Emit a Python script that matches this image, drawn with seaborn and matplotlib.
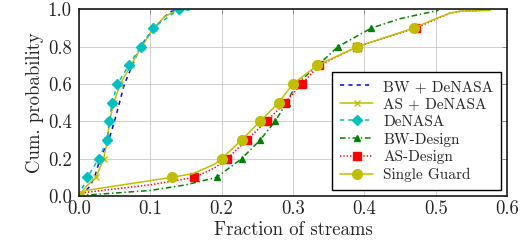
import matplotlib
matplotlib.use("Agg")
import matplotlib.pyplot as plt
import seaborn as sns

# CDF curves (x = fraction of streams, y = cum. probability)
bw_denasa_x = [0.003, 0.015, 0.022, 0.030, 0.042, 0.050, 0.057, 0.064, 0.075, 0.086, 0.106, 0.120, 0.130, 0.150]
bw_denasa_y = [0.0, 0.05, 0.1, 0.2, 0.3, 0.4, 0.5, 0.6, 0.7, 0.8, 0.9, 0.96, 0.99, 0.995]

as_denasa_x = [0.0, 0.010, 0.024, 0.035, 0.040, 0.043, 0.049, 0.058, 0.073, 0.088, 0.105, 0.120, 0.137]
as_denasa_y = [0.0, 0.05, 0.1, 0.2, 0.3, 0.4, 0.5, 0.6, 0.7, 0.8, 0.9, 0.96, 0.995]

denasa_x = [0.0, 0.012, 0.028, 0.040, 0.0425, 0.047, 0.054, 0.070, 0.087, 0.104, 0.140, 0.160]
denasa_y = [0.0, 0.1, 0.2, 0.3, 0.4, 0.5, 0.6, 0.7, 0.8, 0.9, 1.0, 0.995]

bw_design_x = [0.0, 0.010, 0.100, 0.150, 0.193, 0.228, 0.254, 0.275, 0.291, 0.305, 0.335, 0.363, 0.410, 0.450, 0.504]
bw_design_y = [0.0, 0.005, 0.03, 0.06, 0.1, 0.2, 0.3, 0.4, 0.5, 0.6, 0.7, 0.8, 0.9, 0.95, 0.995]

as_design_x = [-0.005, 0.010, 0.100, 0.162, 0.190, 0.208, 0.235, 0.263, 0.289, 0.312, 0.337, 0.390, 0.472, 0.520, 0.535, 0.576]
as_design_y = [0.0, 0.02, 0.06, 0.1, 0.15, 0.2, 0.3, 0.4, 0.5, 0.6, 0.7, 0.8, 0.9, 0.98, 0.99, 0.995]

single_x = [0.0, 0.010, 0.130, 0.160, 0.190, 0.200, 0.228, 0.254, 0.280, 0.300, 0.334, 0.390, 0.469, 0.500, 0.520, 0.535, 0.576]
single_y = [0.0, 0.03, 0.1, 0.12, 0.17, 0.2, 0.3, 0.4, 0.5, 0.6, 0.7, 0.8, 0.9, 0.95, 0.98, 0.99, 0.995]

sns.set_style("whitegrid")
plt.rcParams["font.family"] = "serif"
plt.rcParams["font.serif"] = ["cmr10", "DejaVu Serif"]
plt.rcParams["axes.formatter.use_mathtext"] = True
plt.rcParams["lines.scale_dashes"] = False

fig = plt.figure(figsize=(5.25, 2.46), dpi=100)
ax = fig.add_axes([0.150, 0.203, 0.816, 0.759])

series = [
    # x, y, label, colour, linestyle, marker, size, marked points
    (bw_denasa_x, bw_denasa_y, "BW + DeNASA", "#0000ff", (0, (3, 3)), None, 0, None),
    (as_denasa_x, as_denasa_y, "AS + DeNASA", "#bfbf00", "-", "x", 4, [0, 2, 3, 4, 5, 6, 7, 8, 9, 10]),
    (denasa_x, denasa_y, "DeNASA", "#00bfbf", (0, (3, 3)), "D", 5, list(range(11))),
    (bw_design_x, bw_design_y, "BW-Design", "#008000", (0, (4, 2, 1, 2)), "^", 5, [0, 4, 5, 6, 7, 8, 9, 10, 11, 12]),
    (as_design_x, as_design_y, "AS-Design", "#ff0000", (0, (1, 1.4)), "s", 6, [0, 3, 5, 6, 7, 8, 9, 10, 11, 12]),
    (single_x, single_y, "Single Guard", "#bfbf00", "-", "o", 7, [0, 2, 5, 6, 7, 8, 9, 10, 11, 12]),
]

for x, y, label, color, ls, marker, ms, every in series:
    kw = dict(linestyle=ls, linewidth=1.1)
    if marker is not None:
        kw.update(marker=marker, markersize=ms, markevery=every,
                  markeredgecolor=color, markerfacecolor=color, markeredgewidth=1.0)
    sns.lineplot(x=x, y=y, ax=ax, color=color, label=label,
                 sort=False, estimator=None, **kw)

ax.set_xlim(0, 0.6)
ax.set_ylim(0, 1.0)
ax.set_xticks([0.0, 0.1, 0.2, 0.3, 0.4, 0.5, 0.6])
ax.set_yticks([0.0, 0.2, 0.4, 0.6, 0.8, 1.0])
ax.set_xticklabels(["0.0", "0.1", "0.2", "0.3", "0.4", "0.5", "0.6"])
ax.set_yticklabels(["0.0", "0.2", "0.4", "0.6", "0.8", "1.0"])
ax.tick_params(labelsize=13.5, direction="in", length=3.5, width=0.6, color="#808080",
               top=True, right=True)
ax.tick_params(axis="x", pad=3)
ax.tick_params(axis="y", pad=5)
ax.grid(True, color="#c8c8c8", linewidth=0.6)
for sp in ax.spines.values():
    sp.set_color("#1a1a1a")
    sp.set_linewidth(1.2)

ax.set_xlabel("Fraction of streams", fontsize=13.5, labelpad=2)
ax.set_ylabel("Cum. probability", fontsize=13.5, labelpad=3)

leg = ax.legend(loc="lower right", bbox_to_anchor=(0.986, 0.032), borderaxespad=0,
                fontsize=11, frameon=True, fancybox=False, framealpha=1,
                edgecolor="black", handlelength=2.2, handletextpad=0.65,
                labelspacing=0.25, borderpad=0.5)
leg.get_frame().set_linewidth(1.0)

fig.savefig("out.png", dpi=100)
